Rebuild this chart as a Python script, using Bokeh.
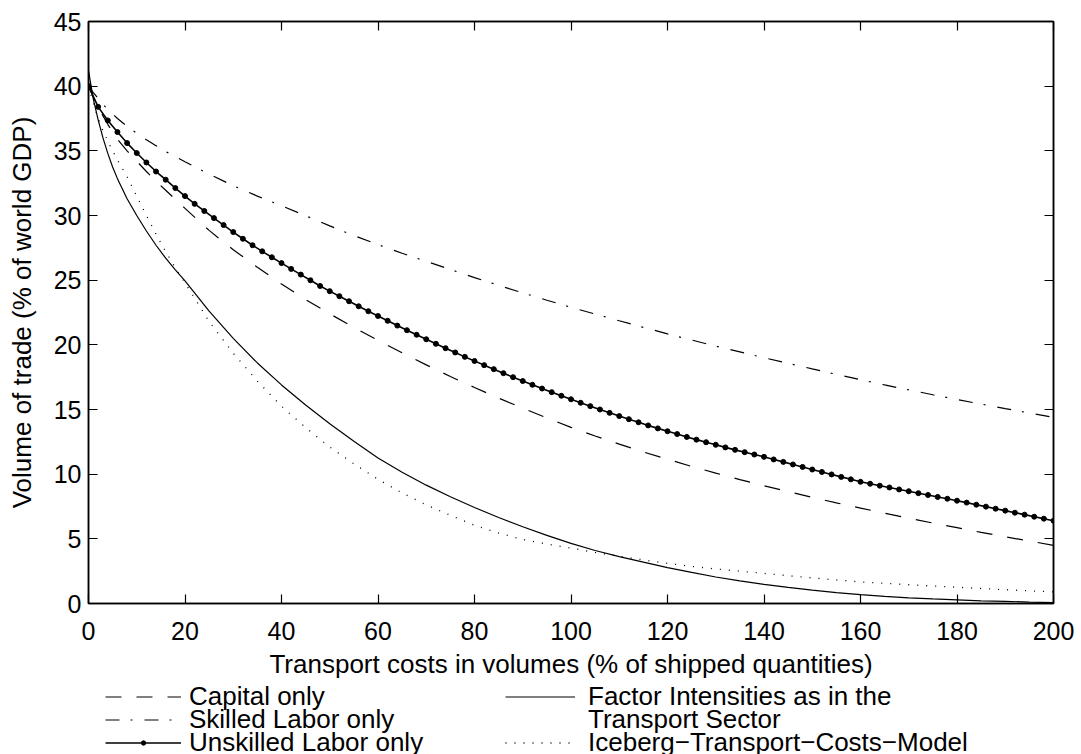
from bokeh.plotting import figure
from bokeh.models import Range1d, FixedTicker, LinearAxis, Legend, LegendItem
from bokeh.layouts import column
from bokeh.embed import file_html
from bokeh.resources import INLINE

# ---------------- data ----------------
x_ticks = [0, 20, 40, 60, 80, 100, 120, 140, 160, 180, 200]
y_ticks = [0, 5, 10, 15, 20, 25, 30, 35, 40, 45]

x_line = [0, 1, 2, 3, 4, 5, 6, 8, 10, 12, 14, 16, 18,
          20, 25, 30, 35, 40, 45, 50, 55, 60, 65, 70, 75, 80, 85, 90, 95, 100,
          105, 110, 115, 120, 125, 130, 135, 140, 145, 150, 155, 160, 165, 170,
          175, 180, 185, 190, 195, 200]

capital_only = [40.0, 39.15, 38.4, 37.7, 37.05, 36.45, 35.9, 35.0, 34.2, 33.4, 32.65, 31.95, 31.25,
                30.55, 28.85, 27.35, 26.0, 24.7, 23.5, 22.4, 21.35, 20.35, 19.38, 18.45, 17.55, 16.7,
                15.88, 15.1, 14.35, 13.62, 12.95, 12.32, 11.72, 11.15, 10.6, 10.08, 9.58, 9.1, 8.65,
                8.2, 7.78, 7.38, 6.98, 6.6, 6.22, 5.86, 5.5, 5.16, 4.83, 4.5]

skilled_only = [40.0, 39.5, 39.05, 38.6, 38.2, 37.85, 37.5, 36.9, 36.35, 35.85, 35.4, 34.95, 34.55,
                34.15, 33.2, 32.3, 31.5, 30.75, 29.98, 29.2, 28.45, 27.75, 27.08, 26.45, 25.83, 25.2,
                24.6, 24.02, 23.45, 22.9, 22.38, 21.86, 21.35, 20.85, 20.37, 19.9, 19.45, 19.0, 18.57,
                18.14, 17.72, 17.3, 16.9, 16.52, 16.14, 15.77, 15.42, 15.07, 14.73, 14.4]

factor_transport = [41.2, 39.0, 37.4, 36.0, 34.8, 33.75, 32.85, 31.3, 30.0, 28.8, 27.7, 26.7, 25.8,
                    24.95, 22.6, 20.5, 18.6, 16.9, 15.35, 13.9, 12.55, 11.25, 10.15, 9.15, 8.25, 7.42,
                    6.65, 5.93, 5.27, 4.65, 4.1, 3.63, 3.2, 2.78, 2.4, 2.05, 1.75, 1.48, 1.24,
                    1.03, 0.84, 0.68, 0.55, 0.44, 0.35, 0.28, 0.21, 0.16, 0.11, 0.07]

iceberg = [40.0, 38.7, 37.5, 36.55, 35.75, 35.0, 34.3, 33.0, 31.5, 30.0, 28.55, 27.2, 25.95,
           24.8, 21.8, 19.35, 17.2, 15.25, 13.6, 12.1, 10.8, 9.6, 8.55, 7.62, 6.82, 6.05,
           5.45, 4.95, 4.6, 4.28, 3.95, 3.65, 3.37, 3.1, 2.87, 2.67, 2.5, 2.33, 2.15,
           1.98, 1.82, 1.67, 1.56, 1.45, 1.35, 1.26, 1.16, 1.07, 0.98, 0.9]

x_unskilled = list(range(0, 201, 2))
unskilled_only = [40.0, 38.4, 37.35, 36.45, 35.6, 34.83, 34.1, 33.4, 32.77, 32.12, 31.5,
                  30.9, 30.35, 29.8, 29.26, 28.72, 28.2, 27.7, 27.23, 26.77, 26.32,
                  25.87, 25.43, 24.99, 24.55, 24.15, 23.76, 23.37, 22.98, 22.6, 22.23,
                  21.86, 21.49, 21.13, 20.78, 20.43, 20.08, 19.74, 19.41, 19.07, 18.75,
                  18.43, 18.12, 17.81, 17.5, 17.2, 16.91, 16.62, 16.34, 16.06, 15.79,
                  15.52, 15.26, 15.0, 14.74, 14.49, 14.25, 14.01, 13.77, 13.54, 13.32,
                  13.1, 12.88, 12.67, 12.47, 12.27, 12.07, 11.88, 11.7, 11.52, 11.34,
                  11.14, 10.95, 10.75, 10.56, 10.36, 10.17, 9.98, 9.79, 9.6, 9.41,
                  9.26, 9.11, 8.97, 8.82, 8.68, 8.53, 8.39, 8.24, 8.1, 7.95,
                  7.8, 7.64, 7.49, 7.33, 7.18, 7.02, 6.87, 6.71, 6.56, 6.4]

series_labels = ["Capital only", "Skilled Labor only", "Unskilled Labor only",
                 "Factor Intensities as in the", "Transport Sector",
                 "Iceberg\u2212Transport\u2212Costs\u2212Model"]

FONT = "Liberation Sans"

# ---------------- main figure ----------------
p = figure(width=1081, height=683,
           x_range=Range1d(0, 200), y_range=Range1d(0, 45),
           output_backend="svg", toolbar_location=None,
           min_border_left=88, min_border_right=28,
           min_border_top=21, min_border_bottom=80)
p.xgrid.visible = False
p.ygrid.visible = False
p.outline_line_color = "black"
p.outline_line_width = 1.5
p.background_fill_color = "white"
p.border_fill_color = "white"


def style_axis(ax, ticks, show_labels=True):
    ax.ticker = FixedTicker(ticks=ticks)
    ax.major_tick_in = 9
    ax.major_tick_out = 0
    ax.minor_tick_in = 0
    ax.minor_tick_out = 0
    ax.major_tick_line_color = "black"
    ax.major_tick_line_width = 1.2
    ax.axis_line_color = "black"
    ax.axis_line_width = 1.5
    ax.major_label_text_font = FONT
    if show_labels:
        ax.major_label_text_font_size = "25px"
        ax.major_label_text_color = "black"
    else:
        ax.major_label_text_font_size = "1px"
        ax.major_label_text_color = None
        ax.major_label_standoff = 0


xa = p.below[0]
ya = p.left[0]
style_axis(xa, x_ticks)
style_axis(ya, y_ticks)
xa.major_label_standoff = 18
ya.major_label_standoff = 7

xa.axis_label = "Transport costs in volumes (% of shipped quantities)"
ya.axis_label = "Volume of trade (% of world GDP)"
for ax in (xa, ya):
    ax.axis_label_text_font = FONT
    ax.axis_label_text_font_size = "26px"
    ax.axis_label_text_font_style = "normal"
    ax.axis_label_text_color = "black"
xa.axis_label_text_line_height = 1.0
xa.axis_label_standoff = 6
ya.axis_label_standoff = 14

top = LinearAxis()
style_axis(top, x_ticks, show_labels=False)
p.add_layout(top, "above")
right = LinearAxis()
style_axis(right, y_ticks, show_labels=False)
p.add_layout(right, "right")

# line styles
STY = {
    "cap": dict(line_color="black", line_width=1.2, line_dash="16 15"),
    "sk": dict(line_color="black", line_width=1.2, line_dash="14 11 2 12"),
    "un": dict(line_color="black", line_width=1.6),
    "fac": dict(line_color="black", line_width=1.2),
    "ice": dict(line_color="black", line_width=1.3, line_dash="1 8"),
}
MK = dict(marker="circle", size=5, fill_color="black", line_color="black")

p.line(x_line, capital_only, **STY["cap"])
p.line(x_line, skilled_only, **STY["sk"])
p.line(x_unskilled, unskilled_only, **STY["un"])
p.scatter(x_unskilled, unskilled_only, **MK)
p.line(x_line, factor_transport, **STY["fac"])
p.line(x_line, iceberg, **STY["ice"])

# ---------------- legend strip below ----------------
Q_H = 71
q = figure(width=1081, height=Q_H, x_range=Range1d(0, 200), y_range=Range1d(0, 45),
           x_axis_type=None, y_axis_type=None,
           output_backend="svg", toolbar_location=None,
           min_border=0, min_border_left=0, min_border_right=0,
           min_border_top=0, min_border_bottom=0)
q.outline_line_color = None
q.background_fill_color = "white"
q.border_fill_color = "white"

# same series, hidden: they only give the legend its samples
k_cap = q.line(x_line, capital_only, visible=False, **STY["cap"])
k_sk = q.line(x_line, skilled_only, visible=False, **STY["sk"])
k_un = q.line(x_unskilled, unskilled_only, visible=False, **STY["un"])
k_unm = q.scatter(x_unskilled, unskilled_only, visible=False, **MK)
k_fac = q.line(x_line, factor_transport, visible=False, **STY["fac"])
k_blank = q.line(x_line, factor_transport, visible=False, line_alpha=0)
k_ice = q.line(x_line, iceberg, visible=False, **STY["ice"])

ITEM_H = 31          # height bokeh gives one 26px legend row
ROW_Y = [13.5, 36.0, 59.0]   # row centres inside the strip (px from its top)
COLS = [(17, 76, 8), (417, 70, 13)]   # x offset, glyph width, label standoff

entries = [(series_labels[0], [k_cap], 0, 0),
           (series_labels[1], [k_sk], 0, 1),
           (series_labels[2], [k_un, k_unm], 0, 2),
           (series_labels[3], [k_fac], 1, 0),
           (series_labels[4], [k_blank], 1, 1),
           (series_labels[5], [k_ice], 1, 2)]

for label, rends, c, r in entries:
    x0, gw, so = COLS[c]
    top_y = ROW_Y[r] - ITEM_H / 2
    vy = Q_H - ITEM_H - top_y
    lg = Legend(items=[LegendItem(label=label, renderers=rends)],
                location=(x0, vy), orientation="vertical",
                padding=0, margin=0, spacing=0,
                glyph_width=gw, glyph_height=11, label_standoff=so,
                label_text_font=FONT, label_text_font_size="26px",
                label_text_baseline="middle", label_text_color="black",
                inactive_fill_alpha=0,
                border_line_color=None, background_fill_alpha=0)
    q.add_layout(lg)

layout = column(p, q, spacing=0)
open("out.html", "w").write(file_html(layout, INLINE))
